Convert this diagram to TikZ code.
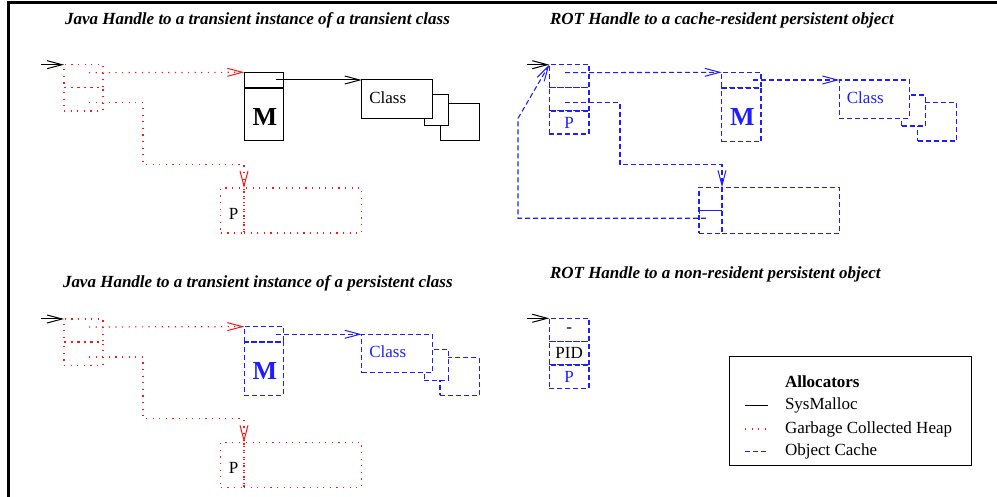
\documentclass[tikz,border=0pt]{standalone}
\usepackage{fontspec}
\setmainfont{Liberation Serif}
\usetikzlibrary{arrows.meta,calc}
\definecolor{ocblue}{RGB}{30,30,255}
\definecolor{gcred}{RGB}{255,20,20}

\tikzset{
  every node/.style={inner sep=0pt, outer sep=0pt, font=\fontsize{17}{20}\selectfont},
  sm/.style={draw=black, text=black, line width=1pt},
  gc/.style={draw=gcred, text=gcred, line width=1.2pt, dash pattern=on 1.2pt off 5.4pt},
  oc/.style={draw=ocblue, text=ocblue, line width=1.1pt, dash pattern=on 5pt off 3pt},
  cell/.style={rectangle, anchor=north west},
  tip/.style={-{Straight Barb[length=15pt,width=8pt,line width=1pt]}},
  ttl/.style={anchor=west, text=black, font=\fontsize{17}{20}\selectfont\bfseries\itshape},
  bigm/.style={font=\fontsize{26}{28}\selectfont\bfseries},
}

% Java handle panel: #1 name prefix, #2 vertical offset,
% #3 allocator style of object and class, #4 their text colour
\newcommand{\javapanel}[4]{%
\begin{scope}[yshift=-#2pt]
  \coordinate (#1in) at (41,64.7);
  \node[cell,gc,minimum width=39,minimum height=23] (#1h1) at (64,64.7) {};
  \node[cell,gc,minimum width=39,minimum height=23.3] (#1h2) at (64,87.7) {};
  \coordinate (#1s1) at (89,72.7);
  \coordinate (#1s2) at (89,102.7);
  \coordinate (#1k) at (143,164.5);
  % object
  \node[cell,#3,fill=white,minimum width=39,minimum height=15.4] (#1m1) at (244.3,72.3) {};
  \node[cell,#3,fill=white,minimum width=39,minimum height=53.3] (#1m2) at (244.3,87.7) {};
  \draw[#3,line width=2pt] (#1m1.south west) -- (#1m1.south east);
  \node[bigm,text=#4] at ($(#1m2.center)+(1,2.7)$) {M};
  \coordinate (#1s3) at (276,80);
  % class
  \node[cell,#3,fill=white,minimum width=39.3,minimum height=37.7] (#1c3) at (440,103.3) {};
  \node[cell,#3,fill=white,minimum width=24,minimum height=31] (#1c2) at (424.3,95) {};
  \node[cell,#3,fill=white,minimum width=70.6,minimum height=38.3] (#1c1) at (361.7,80) {};
  \node[anchor=west,text=#4] at ($(#1c1.west)+(7.6,-1.7)$) {Class};
  % instance in the heap
  \node[cell,gc,minimum width=23.3,minimum height=45] (#1p1) at (220.7,188) {};
  \node[cell,gc,minimum width=117.7,minimum height=45] (#1p2) at (244,188) {};
  \node[text=black] at ($(#1p1.center)+(1.3,3.3)$) {P};
  % pointers
  \draw[sm,tip] (#1in) -- (#1h1.north west);
  \draw[gc,tip] (#1s1) -- (#1m1.north west);
  \draw[gc,tip] (#1s2) -| (#1k) -| (#1p2.north west);
  \draw[#3,tip] (#1s3) -- (#1c1.north west);
\end{scope}}

\begin{document}
\begin{tikzpicture}[x=1pt,y=-1pt]
\useasboundingbox (0,0) rectangle (997,497);
\fill[white] (0,0) rectangle (997,497);
\draw[line width=3pt] (8.5,497) -- (8.5,2.5) -- (997,2.5);

% titles
\node[ttl] (t1) at (65,20) {Java Handle to a transient instance of a transient class};
\node[ttl] (t2) at (550,20) {ROT Handle to a cache-resident persistent object};
\node[ttl] (t3) at (63,283) {Java Handle to a transient instance of a persistent class};
\node[ttl] (t4) at (550,274) {ROT Handle to a non-resident persistent object};

\javapanel{a}{0}{sm}{black}
\javapanel{b}{254.3}{oc}{ocblue}

% ROT handle to a cache-resident object
\coordinate (rin) at (527,64.7);
\node[cell,oc,fill=white,minimum width=39.7,minimum height=23] (rh1) at (549.3,64.7) {};
\node[cell,oc,fill=white,minimum width=39.7,minimum height=23.3] (rh2) at (549.3,87.7) {};
\node[cell,oc,fill=white,minimum width=39.7,minimum height=23] (rh3) at (549.3,111) {P};
\coordinate (rs1) at (565,72.7);
\coordinate (rs2) at (565,102.7);
\coordinate (rk) at (620,164.3);
\node[cell,oc,fill=white,minimum width=39.3,minimum height=15.4] (rm1) at (721.7,72.3) {};
\node[cell,oc,fill=white,minimum width=39.3,minimum height=54] (rm2) at (721.7,87.7) {};
\draw[oc,line width=2pt] (rm1.south west) -- (rm1.south east);
\node[bigm,text=ocblue] at ($(rm2.center)+(1,2.7)$) {M};
\coordinate (rs3) at (753,80);
\node[cell,oc,fill=white,minimum width=39,minimum height=38.3] (rc3) at (917.7,102.7) {};
\node[cell,oc,fill=white,minimum width=23.6,minimum height=31] (rc2) at (901.7,95) {};
\node[cell,oc,fill=white,minimum width=70,minimum height=38.3] (rc1) at (839.3,80) {};
\node[anchor=west,text=ocblue] at ($(rc1.west)+(7.6,-1.7)$) {Class};
\node[cell,oc,fill=white,minimum width=23,minimum height=46] (rp1) at (699,187.3) {};
\node[cell,oc,fill=white,minimum width=117.3,minimum height=46] (rp2) at (722,187.3) {};
\draw[draw=ocblue,line width=1pt,{Bar[width=7pt,line width=1pt]}-] (rp1.west) -- (rp1.east);
\coordinate (rr) at (706,218.3);
\coordinate (rb1) at (518,218.3);
\coordinate (rb2) at (518,118.3);
\draw[sm,tip] (rin) -- (rh1.north west);
\draw[oc,tip] (rs1) -- (rm1.north west);
\draw[oc,tip] (rs2) -| (rk) -| (rp2.north west);
\draw[oc,tip] (rs3) -- (rc1.north west);
\draw[oc,tip] (rr) -- (rb1) -- (rb2) -- (rh1.north west);

% ROT handle to a non-resident object
\coordinate (nin) at (527,318.3);
\node[cell,oc,fill=white,minimum width=39.7,minimum height=23.4] (n1) at (549.3,318.3) {};
\node[cell,oc,fill=white,minimum width=39.7,minimum height=23.3] (n2) at (549.3,341.7) {};
\node[cell,oc,fill=white,minimum width=39.7,minimum height=23.3] (n3) at (549.3,365) {P};
\node[text=black] (n1t) at (n1.center) {-};
\node[text=black] (n2t) at (n2.center) {PID};
\draw[sm,tip] (nin) -- (n1.north west);

% legend
\node[cell,sm,minimum width=242.4,minimum height=108.3] (leg) at (729.3,356.7) {};
\node[anchor=west,text=black,font=\fontsize{17}{20}\selectfont\bfseries] (lt) at (785,382) {Allocators};
\coordinate (l1a) at (745,405);   \coordinate (l1b) at (768.3,405);
\coordinate (l2a) at (745,429);   \coordinate (l2b) at (768.3,429);
\coordinate (l3a) at (745,451.7); \coordinate (l3b) at (768.3,451.7);
\draw[sm] (l1a) -- (l1b);
\draw[gc] (l2a) -- (l2b);
\draw[oc] (l3a) -- (l3b);
\node[anchor=west,text=black] (lx1) at (785,405) {SysMalloc};
\node[anchor=west,text=black] (lx2) at (785,429) {Garbage Collected Heap};
\node[anchor=west,text=black] (lx3) at (785,451.7) {Object Cache};
\end{tikzpicture}
\end{document}
